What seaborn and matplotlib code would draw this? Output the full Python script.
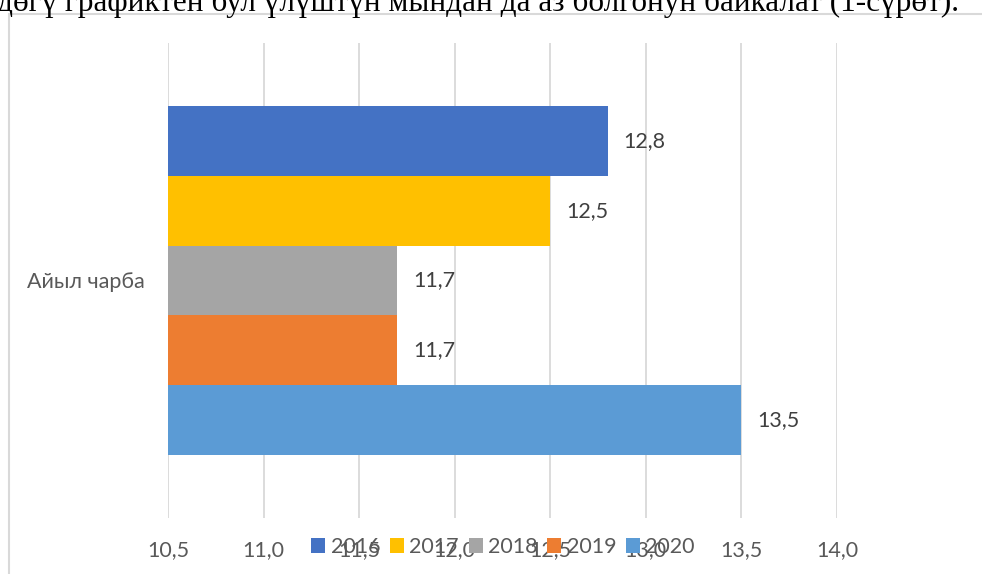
import pandas as pd
import matplotlib.pyplot as plt
import seaborn as sns
from matplotlib.patches import Rectangle
from matplotlib.ticker import FuncFormatter

CATEGORY = "Айыл чарба"
YEARS = ["2016", "2017", "2018", "2019", "2020"]
VALUES = [12.8, 12.5, 11.7, 11.7, 13.5]
COLORS = ["#4472C4", "#FFC000", "#A5A5A5", "#ED7D31", "#5B9BD5"]
X_TICKS = [10.5, 11.0, 11.5, 12.0, 12.5, 13.0, 13.5, 14.0]
CAPTION = "дөгү графиктен бул үлүштүн мындан да аз болгонун байкалат (1-сүрөт)."

TEXT_GRAY = "#595959"
GRID_GRAY = "#D9D9D9"
FS = 15.5


def comma(v, pos=None):
    return f"{v:.1f}".replace(".", ",")


def run():
    sns.set_style("white")
    plt.rcParams["font.family"] = ["Lato", "DejaVu Sans"]

    df = pd.DataFrame({
        "Category": [CATEGORY] * len(YEARS),
        "Year": YEARS,
        "Value": VALUES,
    })

    fig = plt.figure(figsize=(9.82, 5.74), dpi=100)
    ax = fig.add_axes([168 / 982, 1 - 518 / 574, 669 / 982, 475 / 574])

    sns.barplot(data=df, x="Value", y="Category", hue="Year", hue_order=YEARS,
                palette=COLORS, saturation=1, width=0.733, errorbar=None,
                linewidth=0, ax=ax)

    ax.set_xlim(X_TICKS[0], X_TICKS[-1])
    ax.set_xticks(X_TICKS)
    ax.xaxis.set_major_formatter(FuncFormatter(comma))
    ax.tick_params(axis="x", length=0, pad=16, labelsize=FS, labelcolor=TEXT_GRAY)
    ax.tick_params(axis="y", length=0, pad=17, labelsize=FS, labelcolor=TEXT_GRAY)
    ax.set_xlabel("")
    ax.set_ylabel("")
    ax.grid(axis="x", color=GRID_GRAY, lw=1.3)
    ax.grid(axis="y", visible=False)
    ax.set_axisbelow(True)
    for s in ax.spines.values():
        s.set_visible(False)

    for cont in ax.containers:
        ax.bar_label(cont, fmt=comma, padding=11.5, fontsize=FS, color="#404040")

    handles, labels = ax.get_legend_handles_labels()
    ax.legend_.remove()
    fig.legend(handles, labels, loc="center", bbox_to_anchor=(503 / 982, 1 - 547 / 574),
               ncol=5, frameon=False, fontsize=FS, labelcolor=TEXT_GRAY,
               handlelength=0.65, handleheight=0.65, handletextpad=0.25,
               columnspacing=0.45, borderpad=0)

    # chart frame, cut by the page edge on the right and bottom
    fig.add_artist(Rectangle((9 / 982, -0.1), 1.2, 1.1 - 14 / 574,
                             transform=fig.transFigure, fill=False,
                             edgecolor=GRID_GRAY, lw=1.5))

    fig.text(-3 / 982, 1 - 11 / 574, CAPTION, family="Liberation Serif",
             fontsize=22.5, va="baseline", ha="left", color="black")

    fig.savefig("out.png", dpi=100)
    plt.close(fig)


if __name__ == "__main__":
    run()
